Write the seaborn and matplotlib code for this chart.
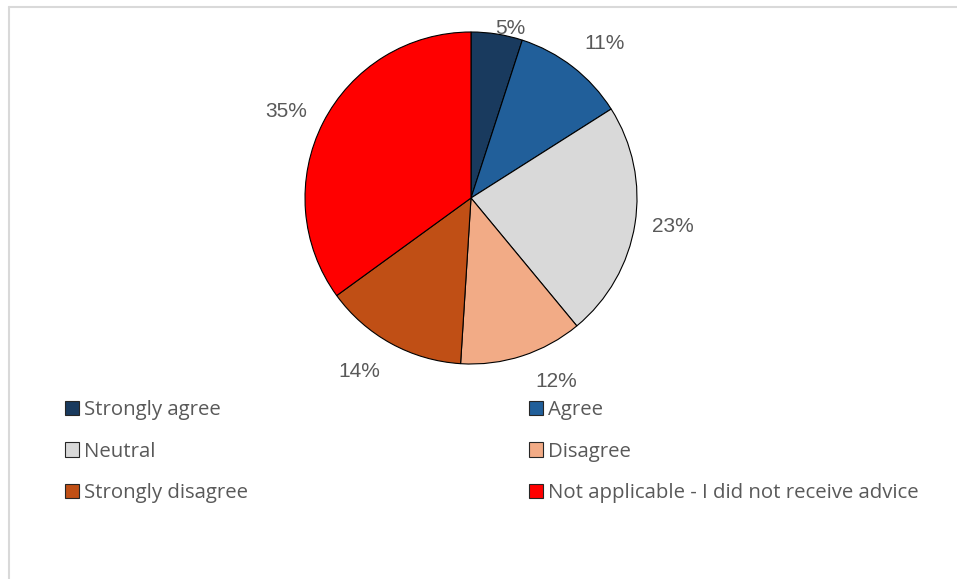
import matplotlib
matplotlib.use("Agg")
import matplotlib.pyplot as plt
from matplotlib.lines import Line2D
import numpy as np
import seaborn as sns

# Survey response shares (percent)
categories = ["Strongly agree", "Agree", "Neutral", "Disagree",
              "Strongly disagree", "Not applicable - I did not receive advice"]
shares = [5, 11, 23, 12, 14, 35]
pct_labels = ["5%", "11%", "23%", "12%", "14%", "35%"]
slice_colors = ["#193A5E", "#215F9A", "#D9D9D9", "#F2AB86", "#C04F15", "#FF0000"]

sns.set_theme(style="white")
plt.rcParams["font.family"] = ["Liberation Sans", "DejaVu Sans"]

W, H = 957, 579
fig = plt.figure(figsize=(W / 100, H / 100), dpi=100)
fig.patch.set_facecolor("white")

# pie axes: centre (471, 198) px, radius 166 px
cx, cy, r = 471, 198, 166
ax = fig.add_axes([(cx - r) / W, (H - cy - r) / H, 2 * r / W, 2 * r / H])
palette = sns.color_palette(slice_colors)
wedges, _ = ax.pie(shares, colors=palette, startangle=90, counterclock=False,
                   radius=1.0,
                   wedgeprops=dict(edgecolor="black", linewidth=0.8))
ax.set_xlim(-1, 1)
ax.set_ylim(-1, 1)
ax.set_aspect("equal")
ax.axis("off")

# percentage labels placed outside each slice
dists = [1.05, 1.23, 1.23, 1.22, 1.24, 1.23]
angle_shift = [4, 3, -1, -7, 4, -2]
for w, lab, d, sh in zip(wedges, pct_labels, dists, angle_shift):
    mid = np.deg2rad((w.theta1 + w.theta2) / 2 - sh)
    ax.text(d * np.cos(mid), d * np.sin(mid), lab, ha="center", va="center",
            fontsize=15, color="#595959", family=["Liberation Sans", "DejaVu Sans"])

# two-column legend, each column as its own legend box
legend_font = ["Open Sans", "DejaVu Sans"]
def column_legend(idx, x_px, y_px):
    handles = [plt.Rectangle((0, 0), 1, 1, facecolor=palette[i],
                             edgecolor="#262626", linewidth=0.8) for i in idx]
    labels = [categories[i] for i in idx]
    leg = fig.legend(handles, labels, loc="upper left",
                     bbox_to_anchor=(x_px / W, 1 - y_px / H),
                     frameon=False, handlelength=0.7, handleheight=0.7,
                     handletextpad=0.25, labelspacing=1.06, borderpad=0,
                     borderaxespad=0,
                     prop=dict(family=legend_font, size=14.7))
    for t in leg.get_texts():
        t.set_color("#595959")
    return leg

column_legend([0, 2, 4], 65, 400)
column_legend([1, 3, 5], 529, 400)

# light chart frame along the left and top edges
frame_kw = dict(color="#D9D9D9", linewidth=1.5, transform=fig.transFigure)
fig.add_artist(Line2D([9 / W, 9 / W], [0, 1 - 7 / H], **frame_kw))
fig.add_artist(Line2D([9 / W, 1], [1 - 7 / H, 1 - 7 / H], **frame_kw))

fig.savefig("out.png", dpi=100, facecolor="white")
